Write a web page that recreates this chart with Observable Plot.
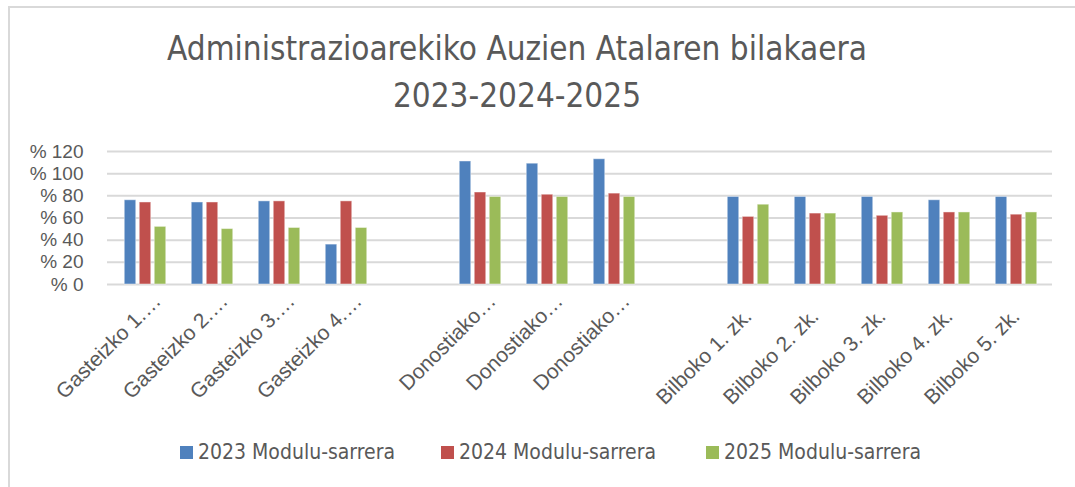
<!DOCTYPE html>
<html>
<head>
<meta charset="utf-8">
<script src="https://cdn.jsdelivr.net/npm/d3@7"></script>
<script src="https://cdn.jsdelivr.net/npm/@observablehq/plot@0.6"></script>
<style>
  html, body { margin: 0; padding: 0; background: #fff; }
  #wrap { position: relative; width: 1075px; height: 487px; overflow: hidden; }
  #frame { position: absolute; left: 8px; top: 6px; width: 1100px; height: 500px;
           border-top: 2px solid #d9d9d9; border-left: 2px solid #d9d9d9; }
  .title { position: absolute; left: 0; width: 1034px; text-align: center; color: #595959;
           font-family: "Liberation Sans Narrow", "DejaVu Sans Condensed", sans-serif; font-size: 33px; }
  #chart { position: absolute; left: 0; top: 120px; }
  #legend { position: absolute; top: 440px; left: 0; width: 1075px;
            font-family: "Liberation Sans Narrow", "DejaVu Sans Condensed", sans-serif; font-size: 21px; color: #595959; }
  .li { position: absolute; top: 0; display: flex; align-items: center; white-space: nowrap; }
  .sw { width: 13px; height: 13px; margin-right: 5px; }
</style>
</head>
<body>
<div id="wrap">
  <div id="frame"></div>
  <div class="title" style="top:29px">Administrazioarekiko Auzien Atalaren bilakaera</div>
  <div class="title" style="top:76px">2023-2024-2025</div>
  <div id="chart"></div>
  <div id="legend"></div>
</div>
<script>
const categories = ["G1","G2","G3","G4","_a","D1","D2","D3","_b","B1","B2","B3","B4","B5"];
const categoryLabels = ["Gasteizko 1.…","Gasteizko 2.…","Gasteizko 3.…","Gasteizko 4.…","",
  "Donostiako…","Donostiako…","Donostiako…","",
  "Bilboko 1. zk.","Bilboko 2. zk.","Bilboko 3. zk.","Bilboko 4. zk.","Bilboko 5. zk."];
const seriesNames = ["2023 Modulu-sarrera","2024 Modulu-sarrera","2025 Modulu-sarrera"];
const seriesColors = ["#4F81BD","#C0504D","#9BBB59"];
const v2023 = [76,74,75,36,null,111,109,113,null,79,79,79,76,79];
const v2024 = [74,74,75,75,null,83,81,82,null,61,64,62,65,63];
const v2025 = [52,50,51,51,null,79,79,79,null,72,64,65,65,65];
const yTicks = [0,20,40,60,80,100,120];

const seriesValues = [v2023, v2024, v2025];
const rows = [];
seriesValues.forEach((vals, si) => {
  vals.forEach((v, ci) => {
    if (v != null) rows.push({category: categories[ci], series: seriesNames[si], value: v, si});
  });
});
const labelRows = categories.map((c, i) => ({category: c, label: categoryLabels[i]})).filter(d => d.label);
const truncated = labelRows.filter(d => d.label.endsWith("…"));
const full = labelRows.filter(d => !d.label.endsWith("…"));

const barW = 12, gap = 3;
const bars = [0,1,2].map(si => Plot.barY(rows.filter(d => d.si === si), {
  x: "category", y: "value", fill: seriesColors[si],
  stroke: "#ffffff", strokeOpacity: 0.45, strokeWidth: 1,
  insetLeft: (67.5 - barW) / 2, insetRight: (67.5 - barW) / 2,
  dx: (si - 1) * (barW + gap) + 0.5
}));

const labelOpts = {x: "category", text: "label", frameAnchor: "bottom", rotate: -45,
  textAnchor: "end", lineAnchor: "bottom", fill: "#595959", fontSize: 21};

const chart = Plot.plot({
  width: 1075,
  height: 300,
  marginLeft: 107,
  marginRight: 23,
  marginTop: 31,
  marginBottom: 136,
  style: {fontFamily: "'Liberation Sans', Arial, sans-serif", fontSize: "18px", color: "#595959", background: "transparent"},
  x: {domain: categories, padding: 0, label: null, axis: null},
  y: {domain: [0, 120], ticks: yTicks, label: null},
  marks: [
    Plot.gridY(yTicks, {stroke: "#d9d9d9", strokeOpacity: 1, strokeWidth: 2}),
    ...bars,
    Plot.axisY(yTicks, {tickSize: 0, tickPadding: 24, tickFormat: d => "% " + d, fill: "#595959", fontSize: 19}),
    Plot.text(truncated, {...labelOpts, dx: 17, dy: 18}),
    Plot.text(full, {...labelOpts, dx: 5, dy: 33})
  ]
});
document.getElementById("chart").appendChild(chart);

const legendPos = [180, 441, 706];
const legend = document.getElementById("legend");
seriesNames.forEach((name, i) => {
  const item = document.createElement("div");
  item.className = "li";
  item.style.left = legendPos[i] + "px";
  item.innerHTML = `<span class="sw" style="background:${seriesColors[i]}"></span><span>${name}</span>`;
  legend.appendChild(item);
});
</script>
</body>
</html>
